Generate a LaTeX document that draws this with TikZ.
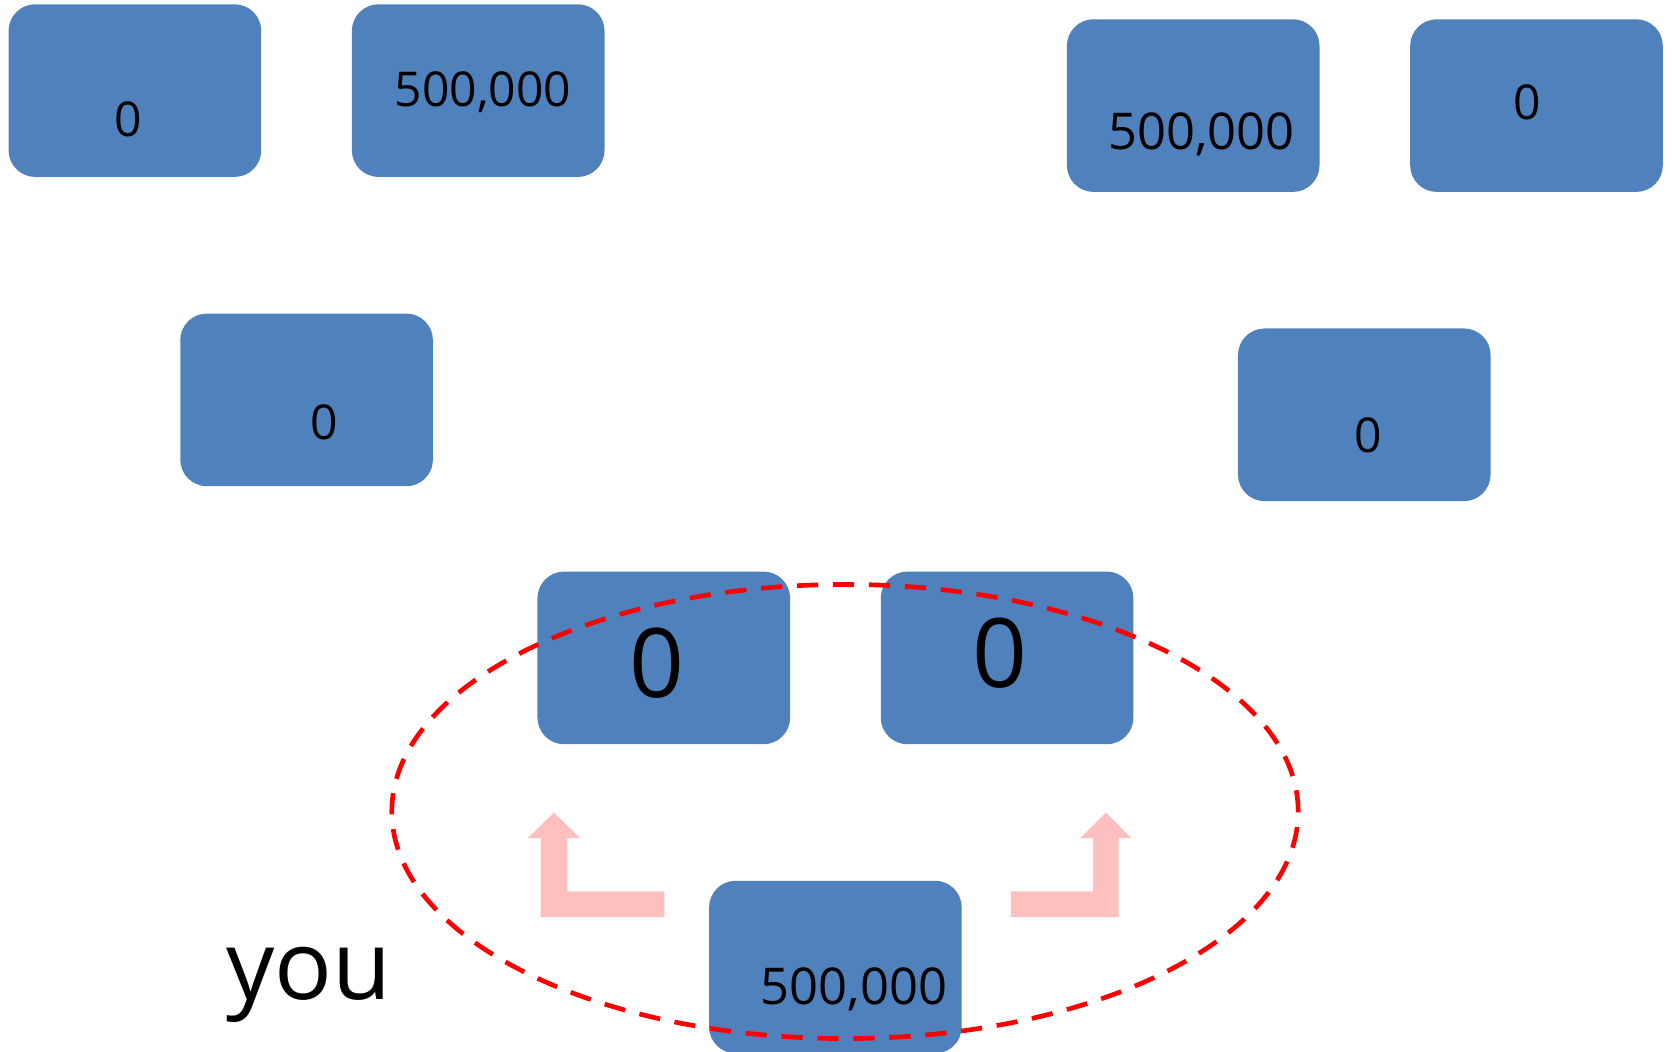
\documentclass[tikz,border=0pt]{standalone}
\usepackage{fontspec}
\setmainfont{Open Sans}
\usetikzlibrary{calc}
\definecolor{boxblue}{RGB}{79,129,189}
\definecolor{arrowpink}{RGB}{255,191,191}
\tikzset{
  acct/.style={fill=boxblue, rounded corners=20pt, minimum width=189.5pt,
    minimum height=129.5pt, inner sep=0pt},
  amount/.style={anchor=base, inner sep=0pt, font=\fontsize{36}{40}\selectfont},
  wideamount/.style={amount, font=\fontsize{38}{42}\selectfont},
  bigamount/.style={anchor=base, inner sep=0pt, font=\fontsize{72}{80}\selectfont},
  turnarrow/.style={fill=arrowpink},
  group/.style={draw=red, line width=3.5pt, dash pattern=on 16pt off 11pt},
}

\begin{document}
\begin{tikzpicture}[x=0.75pt, y=-0.75pt]
  \useasboundingbox (0,0) rectangle (1672,1052);
  % accounts
  \node[acct] (b1) at (134.9, 90.6) {};
  \node[acct] (b2) at (478.2, 90.6) {};
  \node[acct] (b3) at (1193.2, 105.6) {};
  \node[acct] (b4) at (1536.5, 105.6) {};
  \node[acct] (b5) at (306.6, 399.9) {};
  \node[acct] (b6) at (1364.3, 414.8) {};
  \node[acct] (b7) at (663.8, 657.9) {};
  \node[acct] (b8) at (1007.1, 657.9) {};
  \node[acct] (b9) at (835.4, 967.1) {};
  % balances
  \node[amount] at ($(b1) + (-6.9, 45.8)$) (t1) {0};
  \node[amount] at ($(b2) + (4.8, 16.0)$) (t2) {500,000};
  \node[wideamount] at ($(b3) + (8.5, 43.6)$) (t3) {500,000};
  \node[amount] at ($(b4) + (-9.6, 13.8)$) (t4) {0};
  \node[amount] at ($(b5) + (17.6, 39.4)$) (t5) {0};
  \node[amount] at ($(b6) + (3.8, 37.2)$) (t6) {0};
  \node[bigamount] at ($(b7) + (-7.0, 39.8)$) (t7) {0};
  \node[bigamount] at ($(b8) + (-6.9, 29.2)$) (t8) {0};
  \node[wideamount] at ($(b9) + (18.7, 37.3)$) (t9) {500,000};
  \node[bigamount] at (309, 999) (you) {you};
  % split arrows
  \fill[turnarrow] (664.3,891.4) -- (567.3,891.4) -- (567.3,838.1) -- (580.1,838.1)
    -- (553.9,812.5) -- (527.8,838.1) -- (540.6,838.1) -- (540.6,917.0)
    -- (664.3,917.0) -- cycle;
  \fill[turnarrow] (1010.9,891.4) -- (1093.0,891.4) -- (1093.0,838.1) -- (1080.2,838.1)
    -- (1105.8,812.5) -- (1131.3,838.1) -- (1118.5,838.1) -- (1118.5,917.0)
    -- (1010.9,917.0) -- cycle;
  % your wallet
  \coordinate (mid) at (845, 811.5);
  \draw[group] (mid) ellipse [x radius=339.9pt, y radius=170.3pt];
\end{tikzpicture}
\end{document}
